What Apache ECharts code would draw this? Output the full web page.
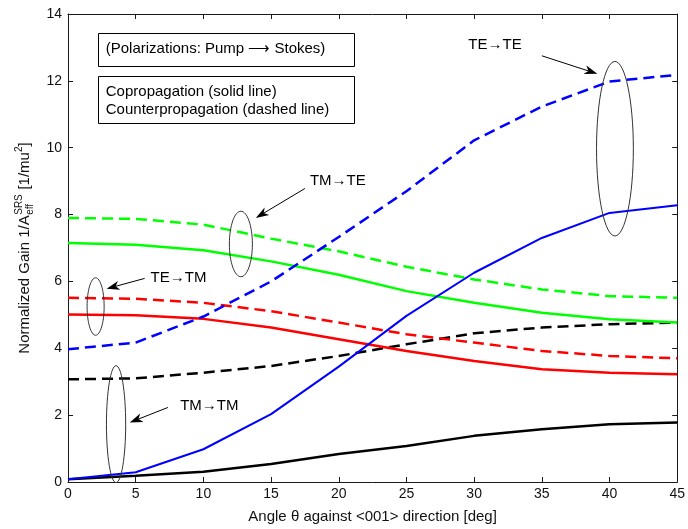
<!DOCTYPE html>
<html><head><meta charset="utf-8">
<script src="https://cdn.jsdelivr.net/npm/echarts@6/dist/echarts.min.js"></script>
<style>html,body{margin:0;padding:0;background:#fff}#c{width:688px;height:529px}</style>
</head><body><div id="c"></div>
<script>
// ---- data ----
const angles = [0, 5, 10, 15, 20, 25, 30, 35, 40, 45];
const teTeCo      = [0.08, 0.29, 0.98, 2.03, 3.45, 4.97, 6.26, 7.30, 8.05, 8.28];
const teTeCounter = [3.97, 4.17, 4.95, 6.00, 7.33, 8.70, 10.22, 11.23, 11.98, 12.18];
const tmTeCo      = [7.15, 7.10, 6.93, 6.60, 6.20, 5.71, 5.36, 5.06, 4.87, 4.77];
const tmTeCounter = [7.90, 7.87, 7.70, 7.28, 6.90, 6.44, 6.06, 5.76, 5.56, 5.51];
const teTmCo      = [5.01, 4.99, 4.88, 4.62, 4.27, 3.92, 3.62, 3.37, 3.27, 3.22];
const teTmCounter = [5.51, 5.48, 5.36, 5.11, 4.77, 4.42, 4.17, 3.92, 3.77, 3.70];
const tmTmCo      = [0.08, 0.19, 0.31, 0.54, 0.84, 1.08, 1.38, 1.58, 1.73, 1.78];
const tmTmCounter = [3.07, 3.10, 3.27, 3.47, 3.77, 4.12, 4.45, 4.62, 4.72, 4.77];

const xTicks = {min: 0, max: 45, interval: 5};
const yTicks = {min: 0, max: 14, interval: 2};

const xTitle = 'Angle \u03b8 against <001> direction [deg]';
const boxTitle = '(Polarizations: Pump \u27f6 Stokes)';
const boxLines = ['Copropagation (solid line)', 'Counterpropagation (dashed line)'];

// annotations in data coordinates
const ellipses = [
  {cx: 40.4, cy: 9.97, rx: 1.36, ry: 2.61},
  {cx: 12.77, cy: 7.12, rx: 0.85, ry: 0.98},
  {cx: 2.04, cy: 5.25, rx: 0.63, ry: 0.86},
  {cx: 3.55, cy: 1.73, rx: 0.71, ry: 1.75}
];
const arrows = [
  {from: [35.0, 12.75], to: [39.1, 12.21]},
  {from: [17.5, 8.78], to: [13.87, 7.90]},
  {from: [5.66, 6.09], to: [2.85, 5.78]},
  {from: [7.38, 2.23], to: [4.56, 1.78]}
];
const labels = [
  {text: 'TE\u2192TE', at: [31.54, 13.07]},
  {text: 'TM\u2192TE', at: [19.93, 9.01]},
  {text: 'TE\u2192TM', at: [8.16, 6.12]},
  {text: 'TM\u2192TM', at: [10.44, 2.27]}
];
const box1 = {x0: 2.21, x1: 21.1, y0: 13.42, y1: 12.43, textX: 2.79, textY: 12.95};
const box2 = {x0: 2.21, x1: 21.1, y0: 12.15, y1: 10.74, textX: 2.79, lineY: [11.68, 11.13]};

// ---- chart ----
const FF = '"Liberation Sans", Arial, Helvetica, sans-serif';
const AX = '#1a1a1a';
const chart = echarts.init(document.getElementById('c'), null, {renderer: 'canvas'});

function mk(data, color, dashed, width) {
  return {
    type: 'line', data: angles.map((a, i) => [a, data[i]]),
    symbol: 'none', showSymbol: false, silent: true, smooth: false,
    lineStyle: {color: color, width: width, type: dashed ? [11, 6] : 'solid'},
    itemStyle: {color: color}, z: 3
  };
}

const axCommon = {
  type: 'value', splitLine: {show: false},
  axisLine: {show: true, onZero: false, lineStyle: {color: AX, width: 1}},
  axisTick: {show: true, inside: true, length: 5, lineStyle: {color: AX, width: 1}}
};

chart.setOption({
  animation: false,
  backgroundColor: '#fff',
  grid: {left: 68, right: 8, top: 14, bottom: 46, containLabel: false},
  xAxis: [
    Object.assign({}, axCommon, xTicks, {
      position: 'bottom',
      axisLabel: {color: '#111', fontSize: 14, fontFamily: FF, margin: 5},
      name: xTitle, nameLocation: 'middle', nameGap: 27,
      nameTextStyle: {color: '#111', fontSize: 15, fontFamily: FF}
    }),
    Object.assign({}, axCommon, xTicks, {position: 'top', axisLabel: {show: false}})
  ],
  yAxis: [
    Object.assign({}, axCommon, yTicks, {
      position: 'left',
      axisLabel: {color: '#111', fontSize: 14, fontFamily: FF, margin: 6}
    }),
    Object.assign({}, axCommon, yTicks, {position: 'right', axisLabel: {show: false}})
  ],
  series: [
    mk(tmTmCo, '#000000', false, 2.5),
    mk(tmTmCounter, '#000000', true, 2.5),
    mk(teTmCo, '#ff0000', false, 2.5),
    mk(teTmCounter, '#ff0000', true, 2.5),
    mk(tmTeCo, '#00ff00', false, 2.5),
    mk(tmTeCounter, '#00ff00', true, 2.5),
    mk(teTeCo, '#0000ff', false, 2),
    mk(teTeCounter, '#0000ff', true, 2.5)
  ]
});

// ---- annotations ----
function px(p) { return chart.convertToPixel({gridIndex: 0}, p); }
const ctx = document.createElement('canvas').getContext('2d');
function tw(t, size) { ctx.font = size + 'px ' + FF; return ctx.measureText(t).width; }

const g = [];
ellipses.forEach(e => {
  const c = px([e.cx, e.cy]);
  const a = px([e.cx + e.rx, e.cy + e.ry]);
  g.push({type: 'ellipse', shape: {cx: c[0], cy: c[1], rx: Math.abs(a[0] - c[0]), ry: Math.abs(a[1] - c[1])},
    style: {fill: 'none', stroke: '#333', lineWidth: 1}, z: 10, silent: true});
});
arrows.forEach(ar => {
  const p0 = px(ar.from), p1 = px(ar.to);
  const dx = p1[0] - p0[0], dy = p1[1] - p0[1];
  const len = Math.hypot(dx, dy), ux = dx / len, uy = dy / len;
  const L = 13, W = 4.5, nx = -uy, ny = ux;
  const b = [p1[0] - ux * L, p1[1] - uy * L];
  const notch = [p1[0] - ux * L * 0.72, p1[1] - uy * L * 0.72];
  g.push({type: 'line', shape: {x1: p0[0], y1: p0[1], x2: notch[0], y2: notch[1]},
    style: {stroke: '#000', lineWidth: 1}, z: 10, silent: true});
  g.push({type: 'polygon', shape: {points: [p1, [b[0] + nx * W, b[1] + ny * W], notch, [b[0] - nx * W, b[1] - ny * W]]},
    style: {fill: '#000'}, z: 10, silent: true});
});
labels.forEach(l => {
  const p = px(l.at);
  g.push({type: 'text', x: p[0], y: p[1], style: {text: l.text, font: '15px ' + FF, fill: '#000',
    textAlign: 'center', textVerticalAlign: 'middle'}, z: 11, silent: true});
});
function boxRect(b) {
  const a = px([b.x0, b.y0]), c = px([b.x1, b.y1]);
  return {type: 'rect', shape: {x: Math.round(a[0]) + 0.5, y: Math.round(a[1]) + 0.5,
    width: Math.round(c[0] - a[0]), height: Math.round(c[1] - a[1])},
    style: {fill: '#fff', stroke: '#000', lineWidth: 1}, z: 12, silent: true};
}
g.push(boxRect(box1));
g.push(boxRect(box2));
(function () {
  const p = px([box1.textX, box1.textY]);
  g.push({type: 'text', x: p[0], y: p[1], style: {text: boxTitle, font: '15px ' + FF, fill: '#000',
    textAlign: 'left', textVerticalAlign: 'middle'}, z: 13, silent: true});
  boxLines.forEach((t, i) => {
    const q = px([box2.textX, box2.lineY[i]]);
    g.push({type: 'text', x: q[0], y: q[1], style: {text: t, font: '15px ' + FF, fill: '#000',
      textAlign: 'left', textVerticalAlign: 'middle'}, z: 13, silent: true});
  });
})();

// y-axis title with stacked sub/superscript, rotated
(function () {
  const t1 = 'Normalized Gain 1/A', sup1 = 'SRS', sub1 = 'eff', t2 = ' [1/mu', sup2 = '2', t3 = ']';
  const w1 = tw(t1, 15), ws = Math.max(tw(sup1, 10), tw(sub1, 10)), w2 = tw(t2, 15), w2s = tw(sup2, 10), w3 = tw(t3, 15);
  const W = w1 + ws + 1 + w2 + w2s + w3;
  const top = px([0, yTicks.max])[1], bot = px([0, yTicks.min])[1];
  const cy = (top + bot) / 2;
  const st = (text, size, x, y) => ({type: 'text', x: x, y: y, style: {text: text, font: size + 'px ' + FF, fill: '#111',
    textAlign: 'left', textVerticalAlign: 'middle'}, silent: true});
  let x = 0;
  const ch = [];
  ch.push(st(t1, 15, x, 0)); x += w1 + 0.5;
  ch.push(st(sup1, 10, x, -6));
  ch.push(st(sub1, 10, x, 5)); x += ws + 0.5;
  ch.push(st(t2, 15, x, 0)); x += w2;
  ch.push(st(sup2, 10, x, -6)); x += w2s;
  ch.push(st(t3, 15, x, 0));
  g.push({type: 'group', x: 25, y: cy + W / 2, rotation: Math.PI / 2, children: ch, z: 10});
})();

chart.setOption({graphic: g});
</script>
</body></html>
